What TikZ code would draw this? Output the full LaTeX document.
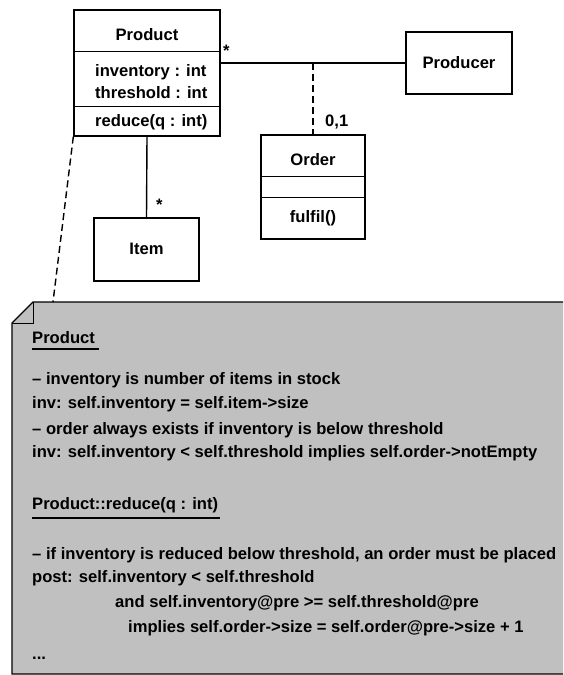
\documentclass[tikz,border=0pt]{standalone}
\usepackage{fontspec}
\setmainfont{Liberation Sans}
\usetikzlibrary{positioning}
\definecolor{notegray}{RGB}{192,192,192}

\begin{document}
\begin{tikzpicture}[x=1pt, y=-1pt,
  every node/.style={inner sep=0pt, font=\bfseries\fontsize{16.6}{19}\selectfont},
  classbox/.style={draw, line width=1.4pt},
  every edge/.style={draw, line width=1.4pt}]

  \useasboundingbox (0,0) rectangle (563,675);

  % note
  \path[fill=notegray] (33,302) -- (563,302) -- (563,674) -- (12,674) -- (12,323) -- cycle;
  \draw[line width=1.4pt] (563,302) -- (33,302) -- (12,323) -- (12,674) -- (563,674);
  \draw[line width=1pt] (33,302) -- (33,323) -- (12,323);
  \coordinate (note) at (53,302);

  % classes
  \node[classbox, minimum width=146pt, minimum height=126pt] (product) at (147,73) {};
  \node[classbox, minimum width=106pt, minimum height=62pt] (producer) at (459,63) {};
  \node[classbox, minimum width=104pt, minimum height=104pt] (order) at (313,187) {};
  \node[classbox, minimum width=105pt, minimum height=63pt] (item) at (146.5,249.5) {};

  \draw[classbox] (product.north west) ++(0,42) -- ++(146,0);
  \draw[classbox] (product.north west) ++(0,97) -- ++(146,0);
  \draw[classbox] (order.north west) ++(0,42) -- ++(104,0);
  \draw[classbox] (order.north west) ++(0,63) -- ++(104,0);

  \node (productname) at (147,35) {Product};
  \node[anchor=west] (inventory) at (95,72) {inventory : int};
  \node[anchor=west] (threshold) at (95,93) {threshold : int};
  \node[anchor=west] (reduce) at (95,122) {reduce(q : int)};
  \node (producername) at (459,63) {Producer};
  \node (ordername) at (313,160) {Order};
  \node (fulfil) at (313,218) {fulfil()};
  \node (itemname) at (146.5,249) {Item};

  % associations
  \coordinate (assoc) at (order.north |- producer.west);
  \path (product.east |- producer.west) edge (producer.west);
  \path (product.south) edge (item.north);
  \path (assoc) edge[dash pattern=on 7pt off 4pt] (order.north);
  \path (product.south west) edge[dash pattern=on 7pt off 4pt] (note);

  \node[anchor=west] (mult1) at (223,51) {*};
  \node[anchor=west] (mult2) at (156,205) {*};
  \node[anchor=west] (mult3) at (325,122) {0,1};

  % constraints
  \node[anchor=west] (hd1) at (32,338) {Product};
  \draw[line width=2pt] ([yshift=-5pt]hd1.south west) -- ([yshift=-5pt,xshift=4pt]hd1.south east);
  \node[anchor=west] (c1) at (32,380) {-- inventory is number of items in stock};
  \node[anchor=west] (c2) at (32,404) {inv: self.inventory = self.item->size};
  \node[anchor=west] (c3) at (32,430) {-- order always exists if inventory is below threshold};
  \node[anchor=west] (c4) at (32,453) {inv: self.inventory < self.threshold implies self.order->notEmpty};
  \node[anchor=west] (hd2) at (32,505) {Product::reduce(q : int)};
  \draw[line width=2pt] ([yshift=-5pt]hd2.south west) -- ([yshift=-5pt,xshift=2pt]hd2.south east);
  \node[anchor=west] (c5) at (32,555) {-- if inventory is reduced below threshold, an order must be placed};
  \node[anchor=west] (c6) at (32,578) {post: self.inventory < self.threshold};
  \node[anchor=west] (c7) at (115,603) {and self.inventory@pre >= self.threshold@pre};
  \node[anchor=west] (c8) at (128,628) {implies self.order->size = self.order@pre->size + 1};
  \node[anchor=west] (c9) at (32,658) {...};

\end{tikzpicture}
\end{document}
